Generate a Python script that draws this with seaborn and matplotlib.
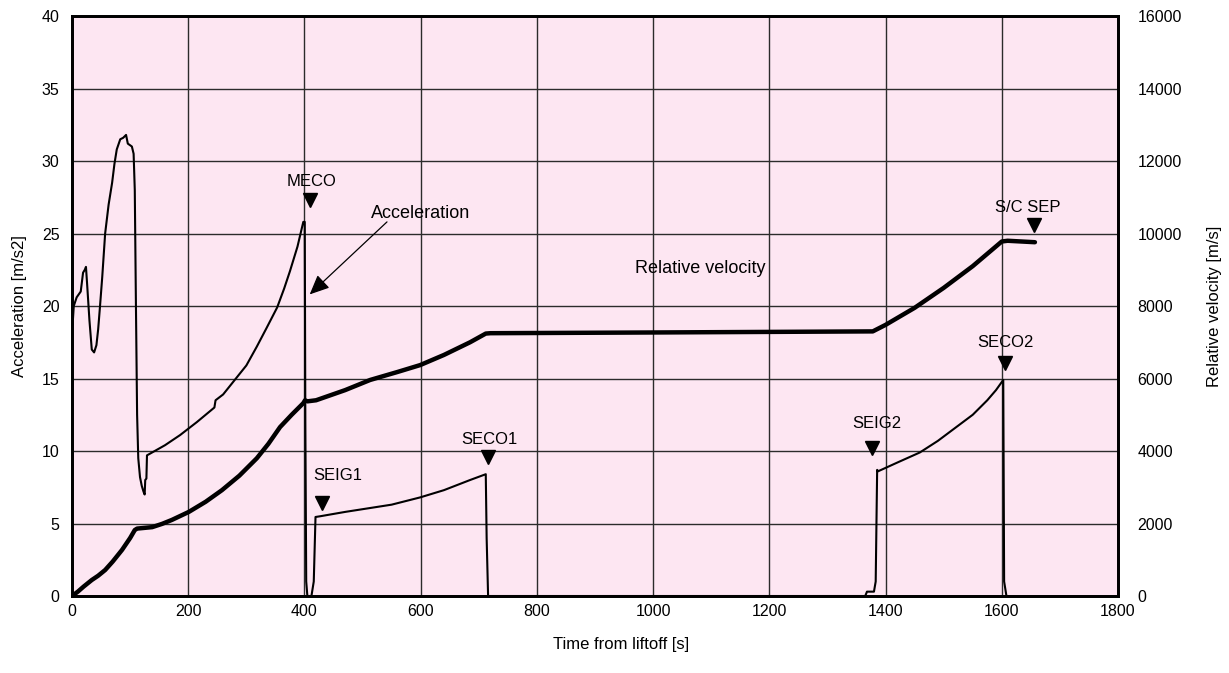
import matplotlib
matplotlib.use("Agg")
import matplotlib.pyplot as plt
import seaborn as sns

# Acceleration profile [m/s2] versus time from liftoff [s]
accel_t = [0, 1, 3, 8, 15, 19, 22, 24, 26, 30, 34, 38, 42, 45, 48, 52, 57, 63, 69,
           73, 77, 83, 88, 93, 96, 103, 106, 108, 110, 112, 114, 117, 120, 123, 125,
           126, 128, 129, 160, 186, 215, 245, 247, 260, 280, 300, 318, 335, 353,
           365, 375, 388, 398, 400.5, 401.5, 403, 405, 412, 416, 419, 427, 470, 550,
           599, 640, 685, 712, 713.5, 716, 1365, 1368, 1380, 1383, 1385.5, 1387,
           1420, 1459, 1490, 1520, 1550, 1575, 1590, 1602.5, 1604, 1608]
accel_v = [18.7, 18.7, 20.0, 20.6, 21.0, 22.3, 22.5, 22.7, 21.5, 19.0, 17.0, 16.8,
           17.3, 18.4, 19.9, 22.0, 25.0, 27.0, 28.5, 29.8, 30.8, 31.5, 31.6, 31.8,
           31.2, 31.0, 30.5, 28.0, 20.0, 12.5, 9.5, 8.2, 7.6, 7.2, 7.0, 8.0, 8.1,
           9.7, 10.4, 11.1, 12.0, 13.0, 13.5, 13.9, 14.9, 15.9, 17.2, 18.5, 19.9,
           21.2, 22.4, 24.1, 25.8, 25.8, 12.0, 1.0, 0.0, 0.0, 1.0, 5.45, 5.5, 5.8,
           6.3, 6.8, 7.3, 8.0, 8.4, 4.0, 0.0, 0.0, 0.3, 0.3, 1.0, 8.7, 8.6, 9.2,
           9.9, 10.7, 11.6, 12.5, 13.5, 14.2, 14.9, 1.0, 0.0]

# Relative velocity [m/s] versus time from liftoff [s]
vel_t = [0, 10, 20, 34, 45, 57, 70, 86, 100, 108, 112, 125, 138, 155, 172, 201,
         230, 258, 288, 318, 338, 358, 378, 398, 401, 405, 420, 470, 513, 560, 599,
         640, 685, 712, 720, 1000, 1378, 1400, 1450, 1500, 1550, 1600, 1610, 1657]
vel_v = [0, 120, 260, 441, 560, 717, 950, 1270, 1600, 1820, 1860, 1880, 1900,
         1990, 2100, 2320, 2600, 2920, 3320, 3800, 4200, 4660, 5000, 5320, 5400,
         5370, 5400, 5680, 5960, 6180, 6370, 6650, 7000, 7240, 7250, 7270, 7300,
         7480, 7950, 8500, 9100, 9780, 9800, 9760]

# Flight events: label, marker position (t, accel), label position (t, accel)
events = ["MECO", "SEIG1", "SECO1", "SEIG2", "SECO2", "S/C SEP"]
event_marker_t = [410, 430, 716, 1377, 1605, 1655]
event_marker_a = [27.3, 6.4, 9.6, 10.2, 16.1, 25.6]
event_text_t = [413, 458, 719, 1385, 1607, 1644]
event_text_a = [28.6, 8.3, 10.8, 11.9, 17.45, 26.8]

x_ticks = list(range(0, 1801, 200))
acc_ticks = list(range(0, 41, 5))
vel_ticks = list(range(0, 16001, 2000))

sns.set_theme(style="white")
plt.rcParams["font.family"] = ["Liberation Sans", "DejaVu Sans"]
plt.rcParams["text.color"] = "black"
plt.rcParams["axes.labelcolor"] = "black"

fig = plt.figure(figsize=(12.29, 6.73), dpi=100)
ax = fig.add_axes([0.0586, 0.1144, 0.8511, 0.8618])
ax.set_facecolor("#FDE6F2")
ax2 = ax.twinx()

sns.lineplot(x=accel_t, y=accel_v, ax=ax, color="black", linewidth=1.5,
             estimator=None, sort=False)
sns.lineplot(x=vel_t, y=vel_v, ax=ax2, color="black", linewidth=3.2,
             estimator=None, sort=False)

ax.set_xlim(0, 1800)
ax.set_ylim(0, 40)
ax2.set_ylim(0, 16000)
ax.set_xticks(x_ticks)
ax.set_yticks(acc_ticks)
ax2.set_yticks(vel_ticks)

for t in x_ticks[1:-1]:
    ax.axvline(t, color="#2b2b2b", linewidth=1.0, zorder=0.5)
for a in acc_ticks[1:-1]:
    ax.axhline(a, color="#2b2b2b", linewidth=1.0, zorder=0.5)

ax.tick_params(axis="both", length=0, labelsize=11.5, colors="black")
ax.tick_params(axis="y", pad=9)
ax.tick_params(axis="x", pad=6)
ax2.tick_params(axis="y", length=0, labelsize=11.5, pad=14, colors="black")

for a_ in (ax, ax2):
    for sp in a_.spines.values():
        sp.set_color("black")
        sp.set_linewidth(2.0)

ax.set_xlabel("Time from liftoff [s]", fontsize=12)
ax.set_ylabel("Acceleration [m/s2]", fontsize=12)
ax2.set_ylabel("Relative velocity [m/s]", fontsize=12)
ax.xaxis.set_label_coords(0.525, -0.07)
ax.yaxis.set_label_coords(-0.043, 0.5)
ax2.yaxis.set_label_coords(1.085, 0.5)

# Event markers and labels
ax.plot(event_marker_t, event_marker_a, linestyle="none", marker="v",
        markersize=10, color="black", clip_on=False)
for name, tx, ty in zip(events, event_text_t, event_text_a):
    ax.text(tx, ty, name, ha="center", va="center", fontsize=12)

ax.text(599, 26.4, "Acceleration", ha="center", va="center", fontsize=13)
ax.annotate("", xy=(409, 20.8), xytext=(542, 25.8),
            arrowprops=dict(arrowstyle="-|>,head_length=1.0,head_width=0.45",
                            color="black", linewidth=0.9, shrinkA=0, shrinkB=0))
ax.text(1081, 22.6, "Relative velocity", ha="center", va="center", fontsize=13)

fig.savefig("out.png", dpi=100)
